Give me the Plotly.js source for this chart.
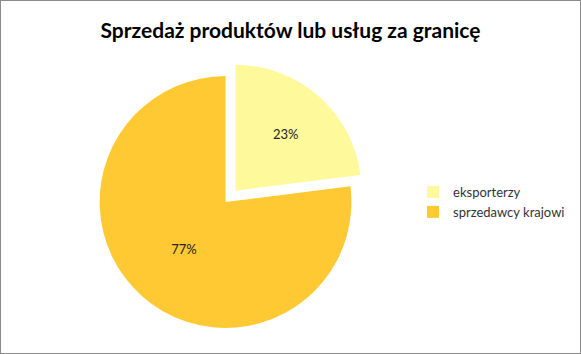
<!DOCTYPE html>
<html>
<head>
<meta charset="utf-8">
<script src="https://cdn.plot.ly/plotly-3.0.1.min.js"></script>
<style>
html,body{margin:0;padding:0;background:#fff;}
#wrap{width:579px;height:352px;border:1px solid #8c8c8c;}
#chart{width:579px;height:352px;}
</style>
</head>
<body>
<div id="wrap"><div id="chart"></div></div>
<script>
const categories = ["eksporterzy", "sprzedawcy krajowi"];
const values = [23, 77];
const sliceColors = ["#FEFA9C", "#FFC933"];
const titleText = "Sprzedaż produktów lub usług za granicę";

const data = [{
  type: "pie",
  labels: categories,
  values: values,
  sort: false,
  direction: "clockwise",
  rotation: 0,
  pull: [0.12, 0],
  marker: {colors: sliceColors, line: {color: "#ffffff", width: 0}},
  textinfo: "percent",
  texttemplate: "%{percent:.0%}",
  textposition: "inside",
  insidetextorientation: "horizontal",
  textfont: {family: "Lato, 'Open Sans', sans-serif", size: 13, color: "#222"},
  domain: {x: [0.04, 0.80], y: [0.0, 1.0]},
  hoverinfo: "label+percent"
}];

const layout = {
  width: 579,
  height: 352,
  margin: {l: 20, r: 10, t: 60, b: 10},
  paper_bgcolor: "#ffffff",
  title: {
    text: titleText,
    x: 0.5, xanchor: "center",
    y: 0.915, yanchor: "middle",
    font: {family: "Lato, 'Open Sans', sans-serif", size: 21, color: "#000", weight: "bold"}
  },
  showlegend: true,
  legend: {
    x: 0.805, xanchor: "left",
    y: 0.5, yanchor: "middle",
    font: {family: "Lato, 'Open Sans', sans-serif", size: 13, color: "#333"},
    itemwidth: 30
  }
};

Plotly.newPlot("chart", data, layout, {displayModeBar: false, staticPlot: true});
</script>
</body>
</html>
